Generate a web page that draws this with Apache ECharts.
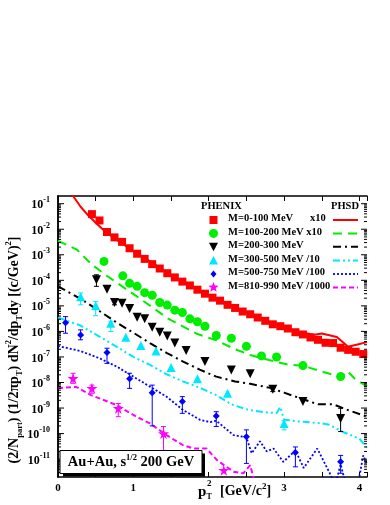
<!DOCTYPE html>
<html><head><meta charset="utf-8">
<script src="https://cdn.jsdelivr.net/npm/echarts@6/dist/echarts.min.js"></script>
<style>html,body{margin:0;padding:0;background:#fff}#c{width:390px;height:505px}</style>
</head><body><div id="c"></div>
<script>
// ---------- data: [pT^2 (GeV^2/c^2), yield] ----------
const phenix_0_100 = [[0.45,3.9e-2],[0.55,2.2e-2],[0.65,7.8e-3],[0.75,4.8e-3],[0.85,3.2e-3],[0.95,1.8e-3],[1.05,1.1e-3],[1.15,6.9e-4],[1.25,4.3e-4],[1.35,2.9e-4],[1.45,1.9e-4],[1.55,1.3e-4],[1.65,8.9e-5],[1.75,6.3e-5],[1.85,4.3e-5],[1.95,3.0e-5],[2.05,2.1e-5],[2.15,1.6e-5],[2.25,1.1e-5],[2.35,8.3e-6],[2.45,6.0e-6],[2.55,4.7e-6],[2.65,3.5e-6],[2.75,2.6e-6],[2.85,1.9e-6],[2.95,1.6e-6],[3.05,1.3e-6],[3.15,9.3e-7],[3.25,7.6e-7],[3.35,5.8e-7],[3.45,4.7e-7],[3.55,3.6e-7],[3.65,3.5e-7],[3.75,2.3e-7],[3.85,1.9e-7],[3.95,1.6e-7],[4.05,1.3e-7]];
const phenix_100_200 = [[0.61,5.5e-4],[0.86,1.5e-4],[0.95,7.6e-5],[1.05,5.8e-5],[1.15,3.3e-5],[1.25,2.6e-5],[1.35,1.35e-5],[1.45,1.07e-5],[1.55,6.8e-6],[1.65,5.5e-6],[1.75,3.1e-6],[1.85,2.4e-6],[1.95,1.6e-6],[2.1,6.9e-7],[2.3,5.4e-7],[2.5,2.6e-7],[2.7,1.1e-7],[2.9,1.0e-7],[3.25,4.6e-8],[3.75,1.7e-8]];
const phenix_200_300 = [[0.51,1.05e-4],[0.65,4.5e-5],[0.75,1.35e-5],[0.85,1.26e-5],[0.95,7.9e-6],[1.05,3.6e-6],[1.15,3.1e-6],[1.25,1.45e-6],[1.35,9.3e-7],[1.45,6.6e-7],[1.55,3.5e-7],[1.7,1.8e-7],[1.95,6.6e-8],[2.3,3.1e-8],[2.55,2.2e-8],[2.85,5.4e-9],[3.25,1.8e-9],[3.75,3.9e-10]];
const phenix_300_500 = [[0.3,2.3e-5],[0.5,1.0e-5],[0.7,2.1e-6],[0.9,5.9e-7],[1.1,2.8e-7],[1.3,1.7e-7],[1.5,3.9e-8],[1.85,1.4e-8],[2.25,3.8e-9],[3.0,2.5e-10]];
const phenix_500_750 = [[0.1,2.2e-6],[0.3,7.2e-7],[0.65,1.5e-7],[0.95,1.4e-8],[1.25,4.0e-9],[1.65,1.8e-9],[2.1,4.9e-10],[2.5,7.6e-11],[3.15,1.8e-11],[3.75,7.9e-12]];
const phenix_810_990 = [[0.2,1.45e-8],[0.45,5.9e-9],[0.8,9.7e-10],[1.4,1.0e-10],[2.2,3.7e-12]];

// error bars: [pT^2, low, high]
const err_200_300 = [[0.51,5.8e-5,1.65e-4],[0.75,1.1e-5,1.7e-5],[2.85,4.4e-9,6.6e-9],[3.75,1.2e-10,9.8e-10]];
const err_300_500 = [[0.3,1.1e-5,3.2e-5],[0.5,4.1e-6,1.5e-5],[0.7,1.0e-6,2.5e-6],[3.0,1.4e-10,3.2e-10]];
const err_500_750 = [[0.1,8.5e-7,3.8e-6],[0.3,4.7e-7,1.15e-6],[0.65,5.6e-8,2.2e-7],[0.95,5.9e-9,2.3e-8],[1.25,2.0e-10,7.9e-9],[1.65,6.2e-10,2.8e-9],[2.1,1.9e-10,7.2e-10],[2.5,6.8e-12,1.4e-10],[3.15,5.0e-12,3.0e-11],[3.75,2.8e-12,1.4e-11]];
const err_810_990 = [[0.2,9.3e-9,2.3e-8],[0.45,3.8e-9,7.9e-9],[0.8,4.6e-10,1.5e-9],[1.4,2.2e-11,1.9e-10]];

// PHSD curves
const phsd_0_100 = [[0.15,0.45],[0.2,0.20],[0.3,7.6e-2],[0.4,3.5e-2],[0.5,1.8e-2],[0.6,9.5e-3],[0.7,5.6e-3],[0.8,3.5e-3],[0.9,2.2e-3],[1.0,1.4e-3],[1.2,6.0e-4],[1.4,2.5e-4],[1.6,1.1e-4],[1.8,5.4e-5],[2.0,2.6e-5],[2.2,1.4e-5],[2.4,7.6e-6],[2.6,4.2e-6],[2.8,2.4e-6],[3.0,1.5e-6],[3.2,9.5e-7],[3.4,7.4e-7],[3.5,8.3e-7],[3.6,7.1e-7],[3.7,6.0e-7],[3.85,2.5e-7],[4.0,3.2e-7],[4.1,3.8e-7]];
const phsd_100_200 = [[0.0,3.5e-3],[0.25,1.6e-3],[0.45,4.1e-4],[0.65,1.5e-4],[0.85,5.8e-5],[1.05,2.3e-5],[1.25,8.9e-6],[1.45,3.3e-6],[1.65,1.6e-6],[1.85,7.9e-7],[2.1,4.5e-7],[2.35,2.0e-7],[2.55,1.2e-7],[2.8,7.6e-8],[3.05,5.0e-8],[3.25,4.5e-8],[3.45,3.0e-8],[3.65,2.0e-8],[3.75,1.6e-8],[3.84,2.8e-8],[3.95,1.3e-8],[4.1,7.1e-9]];
const phsd_200_300 = [[0.0,5.8e-5],[0.3,1.9e-5],[0.55,6.3e-6],[0.78,2.2e-6],[1.0,8.9e-7],[1.22,3.5e-7],[1.44,1.45e-7],[1.66,6.6e-8],[1.88,3.2e-8],[2.1,1.7e-8],[2.35,1.1e-8],[2.55,8.9e-9],[2.8,6.3e-9],[3.0,4.0e-9],[3.2,2.5e-9],[3.45,1.4e-9],[3.65,1.4e-9],[3.85,8.3e-10],[4.1,4.6e-10]];
const phsd_300_500 = [[0.0,3.5e-6],[0.3,1.7e-6],[0.55,6.3e-7],[0.78,2.5e-7],[1.0,1.0e-7],[1.22,4.9e-8],[1.44,2.1e-8],[1.66,1.1e-8],[1.88,6.3e-9],[2.1,3.2e-9],[2.3,1.4e-9],[2.5,8.9e-10],[2.7,7.1e-10],[2.9,6.3e-10],[2.95,1.1e-9],[3.0,3.5e-10],[3.2,3.0e-10],[3.5,2.5e-10],[3.6,2.2e-10],[3.8,1.1e-10],[4.0,6.3e-11],[4.1,2.8e-11]];
const phsd_500_750 = [[0.0,2.7e-7],[0.3,1.7e-7],[0.55,8.9e-8],[0.78,4.2e-8],[1.0,1.7e-8],[1.22,6.9e-9],[1.44,2.8e-9],[1.66,8.3e-10],[1.88,3.5e-10],[2.02,2.8e-10],[2.1,3.2e-10],[2.2,1.8e-10],[2.33,8.7e-11],[2.5,7.1e-11],[2.57,1.7e-11],[2.68,5.0e-11],[2.77,2.0e-11],[2.86,2.6e-11],[2.99,7.8e-12],[3.15,2.2e-11],[3.26,4.5e-12],[3.44,2.6e-11],[3.59,3.5e-12],[3.68,1e-12],[3.75,6.3e-12],[3.82,1e-12],[3.98,1e-12],[4.05,1.4e-11],[4.1,6.3e-12]];
const phsd_810_990 = [[0.0,6.0e-9],[0.24,6.8e-9],[0.44,3.2e-9],[0.78,1.3e-9],[1.04,4.6e-10],[1.22,2.5e-10],[1.44,8.7e-11],[1.66,3.5e-11],[1.80,2.6e-11],[1.97,2.6e-11],[2.11,9.1e-12],[2.33,3.2e-12],[2.46,2.8e-12],[2.55,5.8e-12],[2.62,1e-12]];

const legendLabels = ['M=0-100 MeV', 'M=100-200 MeV x10', 'M=200-300 MeV', 'M=300-500 MeV /10', 'M=500-750 MeV /100', 'M=810-990 MeV /1000'];
const xTickLabels = ['0', '1', '', '3', '4'];
const yDecades = [-11, -10, -9, -8, -7, -6, -5, -4, -3, -2, -1];

// ---------- styling ----------
const FONT = '"Liberation Serif","Times New Roman",serif';
const C = {red:'#ff0000', green:'#00ee00', black:'#000000', cyan:'#00e8ff', blue:'#0000ff', mag:'#ff00ff'};
const STAR = 'path://M50,0 L61,35 L98,35 L68,57 L79,91 L50,70 L21,91 L32,57 L2,35 L39,35 Z';
const XMIN = 0, XMAX = 4.1, YMIN = 2e-12, YMAX = 0.2;

const chart = echarts.init(document.getElementById('c'), null, {renderer:'canvas'});

function errSeries(data, color) {
  return {
    type:'custom', data: data, clip:true, z:3, silent:true,
    renderItem: function(params, api) {
      const x = api.value(0);
      const a = api.coord([x, api.value(1)]);
      const b = api.coord([x, api.value(2)]);
      const st = {stroke: color, lineWidth: 1};
      return {type:'group', children:[
        {type:'line', shape:{x1:a[0], y1:a[1], x2:b[0], y2:b[1]}, style:st},
        {type:'line', shape:{x1:a[0]-2.5, y1:a[1], x2:a[0]+2.5, y2:a[1]}, style:st},
        {type:'line', shape:{x1:b[0]-2.5, y1:b[1], x2:b[0]+2.5, y2:b[1]}, style:st}
      ]};
    }
  };
}
function lineSeries(data, color, dash, w) {
  return {type:'line', data:data, showSymbol:false, symbol:'none', clip:true, z:2, silent:true,
    lineStyle:{color:color, width:w||2, type:dash||'solid'}};
}
function scatSeries(data, color, symbol, size, rot) {
  return {type:'scatter', data:data, symbol:symbol, symbolSize:size, symbolRotate:rot||0, clip:true, z:4, silent:true,
    itemStyle:{color:color, opacity:1}};
}

// log-axis tick marks (axis decoration): [value, isMajor]
const yTickVals = [];
for (let e = -12; e <= -1; e++) for (let m = 1; m <= 9; m++) {
  const v = m * Math.pow(10, e);
  if (v > YMIN && v < YMAX) yTickVals.push([0, v, m === 1 ? 1 : 0, e]);
}

const axisLineStyle = {show:true, lineStyle:{color:'#000', width:1.5}};
const option = {
  animation:false,
  backgroundColor:'#fff',
  grid:{left:58, top:196, width:309, height:281, containLabel:false},
  xAxis:[
    {type:'value', min:XMIN, max:XMAX, interval:0.5, position:'bottom', axisLine:axisLineStyle,
     axisTick:{show:true, inside:true, length:5, lineStyle:{color:'#000', width:1}},
     splitLine:{show:false},
     axisLabel:{show:true, margin:6, color:'#000', fontFamily:FONT, fontWeight:'bold', fontSize:11,
       formatter:function(v){ const i = Math.round(v); return Math.abs(v-i)<1e-6 && i < xTickLabels.length ? xTickLabels[i] : ''; }}},
    {type:'value', min:XMIN, max:XMAX, interval:0.5, position:'top', axisLine:axisLineStyle,
     axisTick:{show:true, inside:true, length:5, lineStyle:{color:'#000', width:1}},
     splitLine:{show:false}, axisLabel:{show:false}}
  ],
  yAxis:[
    {type:'log', logBase:10, min:YMIN, max:YMAX, position:'left', axisLine:axisLineStyle,
     axisTick:{show:false}, splitLine:{show:false}, minorTick:{show:false}, axisLabel:{show:false}},
    {type:'log', logBase:10, min:YMIN, max:YMAX, position:'right', axisLine:axisLineStyle,
     axisTick:{show:false}, splitLine:{show:false}, minorTick:{show:false}, axisLabel:{show:false}}
  ],
  series:[
    {type:'custom', data:yTickVals, clip:false, z:5, silent:true,
     renderItem:function(params, api){
       const v = api.value(1);
       const major = api.value(2) === 1;
       const p = api.coord([XMIN, v]);
       const q = api.coord([XMAX, v]);
       const L = major ? 6 : 3;
       const st = {stroke:'#000', lineWidth:1};
       const ch = [
         {type:'line', shape:{x1:p[0], y1:p[1], x2:p[0]+L, y2:p[1]}, style:st},
         {type:'line', shape:{x1:q[0]-L, y1:q[1], x2:q[0], y2:q[1]}, style:st}
       ];
       if (major) {
         ch.push({type:'text', x:p[0]-8, y:p[1], style:{
           text:'{b|10}{s|' + api.value(3) + '}', align:'right', verticalAlign:'middle',
           rich:{b:{fontFamily:FONT, fontWeight:'bold', fontSize:12, fill:'#000', verticalAlign:'bottom', lineHeight:15},
                 s:{fontFamily:FONT, fontWeight:'bold', fontSize:8, fill:'#000', verticalAlign:'top', lineHeight:15}}}});
       }
       return {type:'group', children:ch};
     }},
    lineSeries(phsd_0_100, C.red, 'solid', 2),
    lineSeries(phsd_100_200, C.green, [9,6], 2),
    lineSeries(phsd_200_300, C.black, [8,4,2,4], 2),
    lineSeries(phsd_300_500, C.cyan, [7,3,2,3,2,3], 2),
    lineSeries(phsd_500_750, C.blue, [2,2], 1.8),
    lineSeries(phsd_810_990, C.mag, [5,3], 2),
    errSeries(err_200_300, C.black),
    errSeries(err_300_500, C.cyan),
    errSeries(err_500_750, C.blue),
    errSeries(err_810_990, C.mag),
    scatSeries(phenix_0_100, C.red, 'rect', 8),
    scatSeries(phenix_100_200, C.green, 'circle', 9),
    scatSeries(phenix_200_300, C.black, 'triangle', 9, 180),
    scatSeries(phenix_300_500, C.cyan, 'triangle', 9),
    scatSeries(phenix_500_750, C.blue, 'diamond', 7),
    scatSeries(phenix_810_990, C.mag, STAR, 11)
  ]
};

// ---------- legend / annotations via graphic ----------
const LF = {fontFamily:FONT, fontWeight:'bold', fontSize:10.5, fill:'#000'};
const rowsY = [220, 233.4, 246.8, 260.5, 274, 287.4];
const mk = [
  {shape:'rect', color:C.red}, {shape:'circle', color:C.green}, {shape:'tdown', color:C.black},
  {shape:'tup', color:C.cyan}, {shape:'diamond', color:C.blue}, {shape:'star', color:C.mag}
];
const lineDash = [null, [9,6], [8,4,2,4], [7,3,2,3,2,3], [2,2], [5,3]];
const lineCol = [C.red, C.green, C.black, C.cyan, C.blue, C.mag];
const g = [];
g.push({type:'text', left:201, top:201, z:100, style:Object.assign({text:'PHENIX'}, LF)});
g.push({type:'text', left:331, top:201, z:100, style:Object.assign({text:'PHSD'}, LF)});
rowsY.forEach(function(y, i){
  const mx = 213.5;
  let el;
  const m = mk[i];
  if (m.shape === 'rect') el = {type:'rect', shape:{x:mx-4, y:y-4, width:8, height:8}, style:{fill:m.color}};
  else if (m.shape === 'circle') el = {type:'circle', shape:{cx:mx, cy:y, r:4.5}, style:{fill:m.color}};
  else if (m.shape === 'tdown') el = {type:'polygon', shape:{points:[[mx-4.5,y-4],[mx+4.5,y-4],[mx,y+4.5]]}, style:{fill:m.color}};
  else if (m.shape === 'tup') el = {type:'polygon', shape:{points:[[mx-4.5,y+4],[mx+4.5,y+4],[mx,y-4.5]]}, style:{fill:m.color}};
  else if (m.shape === 'diamond') el = {type:'polygon', shape:{points:[[mx,y-3.5],[mx+3,y],[mx,y+3.5],[mx-3,y]]}, style:{fill:m.color}};
  else {
    const pts = []; for (let k = 0; k < 10; k++) { const r = k%2 ? 2.3 : 5.5; const a = -Math.PI/2 + k*Math.PI/5; pts.push([mx + r*Math.cos(a), y + r*Math.sin(a)]); }
    el = {type:'polygon', shape:{points:pts}, style:{fill:m.color}};
  }
  el.z = 100; g.push(el);
  g.push({type:'text', left:228, top:y-7, z:100, style:Object.assign({text:legendLabels[i]}, LF)});
  g.push({type:'line', z:100, shape:{x1:333, y1:y, x2:358, y2:y}, style:{stroke:lineCol[i], lineWidth:i===4?1.8:2, lineDash:lineDash[i]}});
});
g.push({type:'text', left:310, top:rowsY[0]-7, z:100, style:Object.assign({text:'x10'}, LF)});

// Au+Au box
g.push({type:'rect', z:90, shape:{x:63, y:453.5, width:142, height:23}, style:{fill:'#000'}});
g.push({type:'rect', z:91, shape:{x:60, y:450.5, width:142, height:23}, style:{fill:'#fff', stroke:'#000', lineWidth:1}});
g.push({type:'text', z:92, x:131, y:462, style:{text:'Au+Au, s{s|1/2} 200 GeV', align:'center', verticalAlign:'middle',
  fontFamily:FONT, fontWeight:'bold', fontSize:14.5, fill:'#000',
  rich:{s:{fontFamily:FONT, fontWeight:'bold', fontSize:8.5, verticalAlign:'top', lineHeight:18, fill:'#000'}}}});

// x title
g.push({type:'text', z:92, x:198, y:492, style:{text:'p', align:'left', verticalAlign:'middle', fontFamily:FONT, fontWeight:'bold', fontSize:15, fill:'#000'}});
g.push({type:'text', z:92, x:207, y:484, style:{text:'2', align:'left', verticalAlign:'middle', fontFamily:FONT, fontWeight:'bold', fontSize:9, fill:'#000'}});
g.push({type:'text', z:92, x:206.5, y:497, style:{text:'T', align:'left', verticalAlign:'middle', fontFamily:FONT, fontWeight:'bold', fontSize:8, fill:'#000'}});
g.push({type:'text', z:92, x:220, y:491, style:{text:'[GeV/c{s|2}]', align:'left', verticalAlign:'middle', fontFamily:FONT, fontWeight:'bold', fontSize:14, fill:'#000',
  rich:{s:{fontFamily:FONT, fontWeight:'bold', fontSize:9, verticalAlign:'top', lineHeight:18, fill:'#000'}}}});

// y title (rotated)
g.push({type:'text', z:92, x:14, y:350, rotation:Math.PI/2, style:{
  text:'(2/N{sub|part}) (1/2πp{sub|T}) dN{sup|2}/dp{sub|T}dy [(c/GeV){sup|2}]',
  align:'center', verticalAlign:'middle', fontFamily:FONT, fontWeight:'bold', fontSize:14, fill:'#000',
  rich:{sub:{fontFamily:FONT, fontWeight:'bold', fontSize:8.5, verticalAlign:'bottom', lineHeight:20, fill:'#000'},
        sup:{fontFamily:FONT, fontWeight:'bold', fontSize:8.5, verticalAlign:'top', lineHeight:20, fill:'#000'}}}});

option.graphic = g;
chart.setOption(option);
</script></body></html>
